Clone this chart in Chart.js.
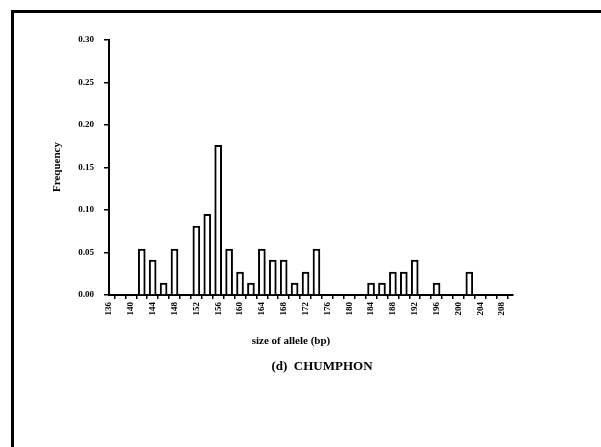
<!DOCTYPE html>
<html>
<head>
<meta charset="utf-8">
<script src="https://cdn.jsdelivr.net/npm/chart.js@4/dist/chart.umd.min.js"></script>
<style>
  html, body { margin: 0; padding: 0; background: #fff; }
  #wrap { position: relative; width: 601px; height: 447px; overflow: hidden; }
  #frame { position: absolute; left: 11px; top: 10px; width: 620px; height: 460px;
           border-left: 3px solid #000; border-top: 3px solid #000; }
  canvas { position: absolute; left: 0; top: 0; }
</style>
</head>
<body>
<div id="wrap">
  <div id="frame"></div>
  <canvas id="c" width="601" height="447"></canvas>
</div>
<script>
// Allele sizes (bp) and their frequencies
const alleleSizes = [142, 144, 146, 148, 152, 154, 156, 158, 160, 162, 164, 166, 168, 170, 172, 174,
                     184, 186, 188, 190, 192, 196, 202];
const frequencies = [0.054, 0.041, 0.014, 0.054, 0.081, 0.095, 0.176, 0.054, 0.027, 0.014, 0.054, 0.041, 0.041, 0.014, 0.027, 0.054,
                     0.014, 0.014, 0.027, 0.027, 0.041, 0.014, 0.027];
const xTickLabels = [136, 140, 144, 148, 152, 156, 160, 164, 168, 172, 176, 180, 184, 188, 192, 196, 200, 204, 208];
const yTickLabels = ["0.00", "0.05", "0.10", "0.15", "0.20", "0.25", "0.30"];
const xTitle = "size of allele (bp)";
const yTitle = "Frequency";
const caption = "(d)  CHUMPHON";

const serif = "'Liberation Serif', 'DejaVu Serif', serif";

const textPlugin = {
  id: 'texts',
  afterDraw(chart) {
    const ctx = chart.ctx;
    ctx.save();
    ctx.fillStyle = '#000';
    ctx.textAlign = 'center';
    ctx.textBaseline = 'middle';
    ctx.font = "bold 11px " + serif;
    ctx.fillText(xTitle, 291, 341);
    ctx.font = "bold 13px " + serif;
    ctx.fillText(caption, 322, 367);
    ctx.translate(57, 167);
    ctx.rotate(-Math.PI / 2);
    ctx.font = "bold 11px " + serif;
    ctx.fillText(yTitle, 0, 0);
    ctx.restore();
  }
};

new Chart(document.getElementById('c'), {
  type: 'bar',
  data: {
    datasets: [{
      data: alleleSizes.map((a, i) => ({ x: a, y: frequencies[i] })),
      backgroundColor: '#ffffff',
      borderColor: '#000000',
      borderWidth: 2,
      barThickness: 7
    }]
  },
  options: {
    responsive: false,
    animation: false,
    events: [],
    layout: { padding: { top: 40, right: 88, bottom: 0, left: 0 } },
    plugins: { legend: { display: false }, tooltip: { enabled: false }, title: { display: false } },
    scales: {
      x: {
        type: 'linear',
        min: 136,
        max: 210,
        offset: false,
        afterFit(s) { s.height = 152; },
        afterBuildTicks(s) {
          const t = [];
          for (let v = 136; v <= 210; v += 2) t.push({ value: v });
          s.ticks = t;
        },
        ticks: {
          autoSkip: false,
          maxRotation: 90,
          minRotation: 90,
          padding: 3,
          color: '#000',
          font: { family: serif, size: 9, weight: 'bold' },
          callback: (v) => xTickLabels.includes(v) ? String(v) : ''
        },
        grid: { drawOnChartArea: false, drawTicks: true, tickLength: 4, color: '#000', lineWidth: 1.5 },
        border: { color: '#000', width: 2 }
      },
      y: {
        min: 0,
        max: 0.30,
        afterFit(s) { s.width = 109; },
        afterBuildTicks(s) { s.ticks = yTickLabels.map(l => ({ value: parseFloat(l) })); },
        ticks: {
          padding: 10,
          color: '#000',
          font: { family: serif, size: 9, weight: 'bold' },
          callback: (v) => yTickLabels.find(l => Math.abs(parseFloat(l) - v) < 1e-9) || ''
        },
        grid: { drawOnChartArea: false, drawTicks: true, tickLength: 5, color: '#000', lineWidth: 1.5 },
        border: { color: '#000', width: 2 }
      }
    }
  },
  plugins: [textPlugin]
});
</script>
</body>
</html>
